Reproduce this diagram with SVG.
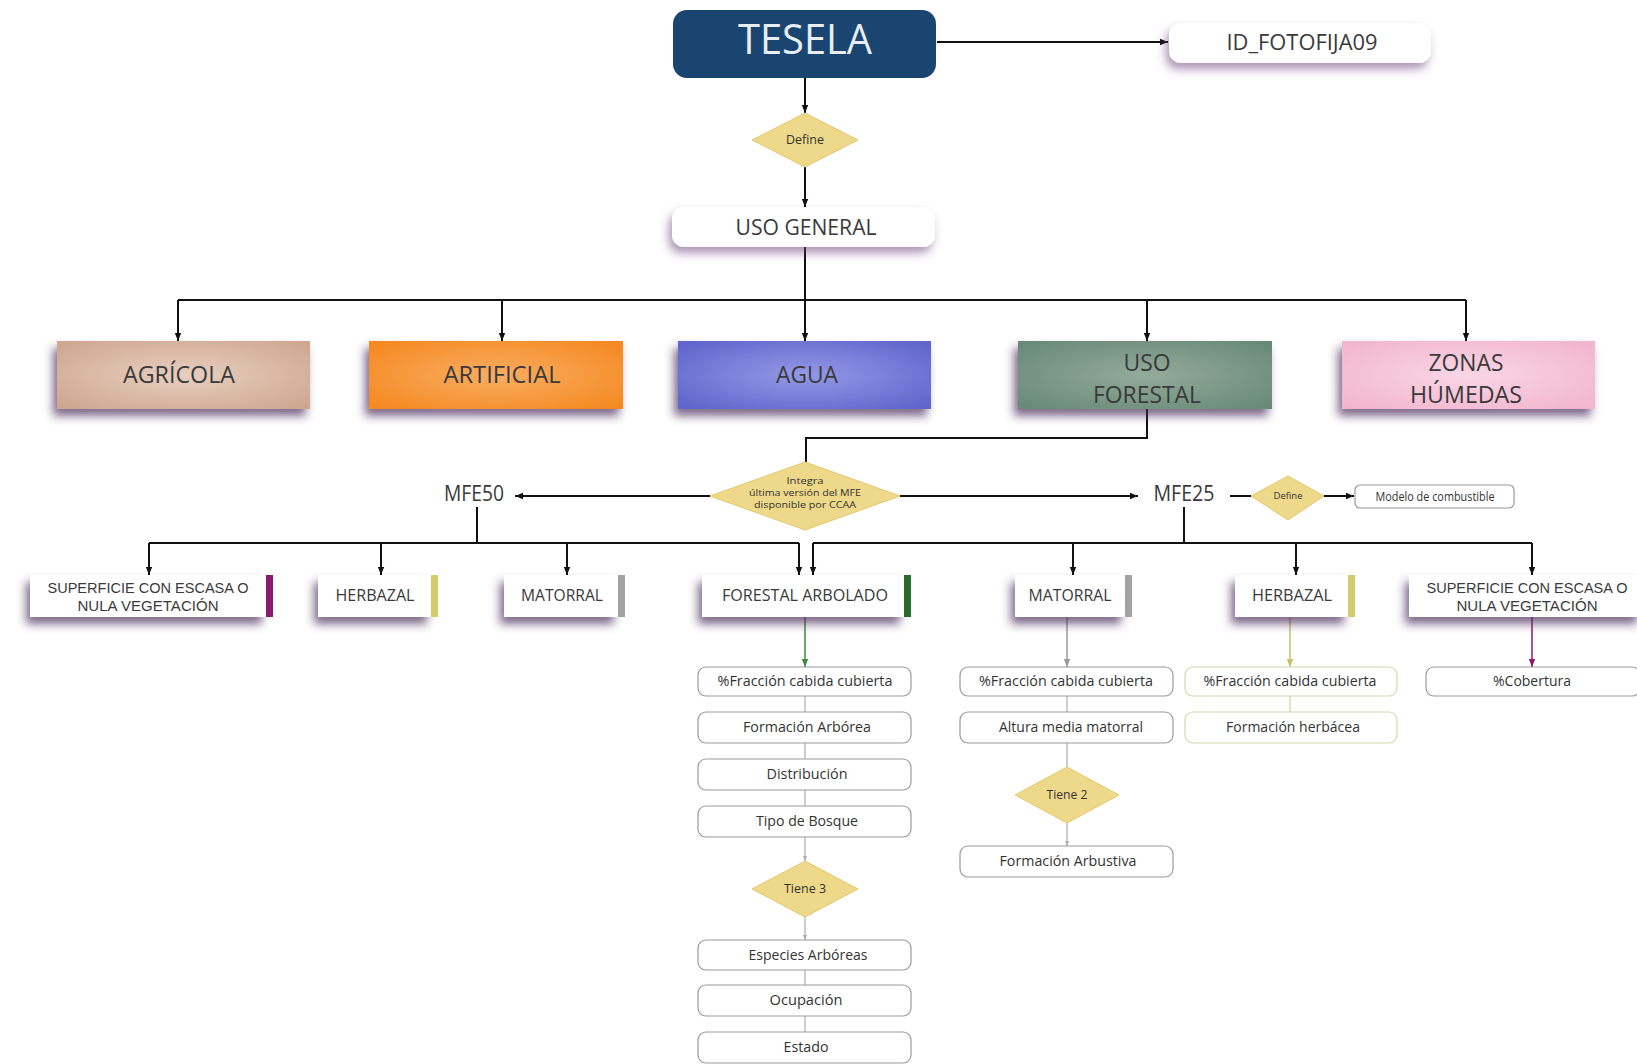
<svg xmlns="http://www.w3.org/2000/svg" width="1637" height="1064" viewBox="0 0 1637 1064">
<defs>
<style>
.t{font-family:"Open Sans","Noto Sans","Liberation Sans",sans-serif;fill:#3a3a3a;text-anchor:middle}
.big{font-size:24px}
.mid{font-size:21px}
.lab{font-size:16px}
.two{font-family:"Liberation Sans",Arial,sans-serif;font-size:15px}
.sub{font-size:14px;fill:#333}
.sm{font-size:12px;fill:#333}
.tiny{font-size:9.5px;fill:#333}
.ln{stroke:#111;stroke-width:2;fill:none}
.thin{stroke:#aaa;stroke-width:1.2;fill:none}
.sb{fill:#fff;stroke:#9a9a9a;stroke-width:1.2}
.dia{fill:#eed98a;stroke:#e2c96e;stroke-width:1}
.wb{fill:#fff}
</style>
<filter id="sh" x="-20%" y="-40%" width="140%" height="200%">
<feDropShadow dx="-4" dy="7" stdDeviation="5" flood-color="#4a2658" flood-opacity="0.7"/>
</filter>
<filter id="sh2" x="-20%" y="-40%" width="140%" height="200%">
<feDropShadow dx="-3" dy="6" stdDeviation="5" flood-color="#6a3a78" flood-opacity="0.55"/>
</filter>
<marker id="ab" viewBox="0 0 10 10" refX="10" refY="5" markerWidth="8" markerHeight="8" markerUnits="userSpaceOnUse" orient="auto"><path d="M0,1 L10,5 L0,9 z" fill="#111"/></marker>
<marker id="ag" viewBox="0 0 10 10" refX="10" refY="5" markerWidth="8" markerHeight="8" markerUnits="userSpaceOnUse" orient="auto"><path d="M0,1 L10,5 L0,9 z" fill="#3d8a3d"/></marker>
<marker id="agr" viewBox="0 0 10 10" refX="10" refY="5" markerWidth="8" markerHeight="8" markerUnits="userSpaceOnUse" orient="auto"><path d="M0,1 L10,5 L0,9 z" fill="#999"/></marker>
<marker id="ay" viewBox="0 0 10 10" refX="10" refY="5" markerWidth="8" markerHeight="8" markerUnits="userSpaceOnUse" orient="auto"><path d="M0,1 L10,5 L0,9 z" fill="#c9c06a"/></marker>
<marker id="ap" viewBox="0 0 10 10" refX="10" refY="5" markerWidth="8" markerHeight="8" markerUnits="userSpaceOnUse" orient="auto"><path d="M0,1 L10,5 L0,9 z" fill="#8a1a6e"/></marker>
<marker id="as" viewBox="0 0 10 10" refX="10" refY="5" markerWidth="5" markerHeight="5" markerUnits="userSpaceOnUse" orient="auto"><path d="M0,1 L10,5 L0,9 z" fill="#aaa"/></marker>
<radialGradient id="gA" cx="50%" cy="50%" r="65%"><stop offset="0" stop-color="#e8cfc0"/><stop offset="1" stop-color="#cfa891"/></radialGradient>
<radialGradient id="gR" cx="50%" cy="50%" r="65%"><stop offset="0" stop-color="#f9ad62"/><stop offset="1" stop-color="#f58a22"/></radialGradient>
<radialGradient id="gW" cx="50%" cy="50%" r="65%"><stop offset="0" stop-color="#9498e6"/><stop offset="1" stop-color="#6066cc"/></radialGradient>
<radialGradient id="gF" cx="50%" cy="50%" r="65%"><stop offset="0" stop-color="#93ab9b"/><stop offset="1" stop-color="#6a8a78"/></radialGradient>
<radialGradient id="gZ" cx="50%" cy="50%" r="65%"><stop offset="0" stop-color="#f9d6e5"/><stop offset="1" stop-color="#f2b6cf"/></radialGradient>
</defs>
<rect width="1637" height="1064" fill="#fff"/>

<g id="connectors">
<line class="ln" x1="805" y1="78" x2="805" y2="113" marker-end="url(#ab)"/>
<line class="ln" x1="805" y1="167" x2="805" y2="207" marker-end="url(#ab)"/>
<line class="ln" x1="937" y1="42" x2="1168" y2="42" marker-end="url(#ab)"/>
<line class="ln" x1="805" y1="247" x2="805" y2="300"/>
<line class="ln" x1="178" y1="300" x2="1466" y2="300"/>
<line class="ln" x1="178" y1="300" x2="178" y2="341" marker-end="url(#ab)"/>
<line class="ln" x1="502" y1="300" x2="502" y2="341" marker-end="url(#ab)"/>
<line class="ln" x1="805" y1="300" x2="805" y2="341" marker-end="url(#ab)"/>
<line class="ln" x1="1147" y1="300" x2="1147" y2="341" marker-end="url(#ab)"/>
<line class="ln" x1="1466" y1="300" x2="1466" y2="341" marker-end="url(#ab)"/>
<polyline class="ln" points="1147,409 1147,438 806,438 806,462"/>
<line class="ln" x1="710" y1="496" x2="515" y2="496" marker-end="url(#ab)"/>
<line class="ln" x1="900" y1="496" x2="1138" y2="496" marker-end="url(#ab)"/>
<line class="ln" x1="1230" y1="496" x2="1251" y2="496"/>
<line class="ln" x1="1324" y1="496" x2="1354" y2="496" marker-end="url(#ab)"/>
<line class="ln" x1="477" y1="507" x2="477" y2="543"/>
<line class="ln" x1="149" y1="543" x2="799" y2="543"/>
<line class="ln" x1="149" y1="543" x2="149" y2="575" marker-end="url(#ab)"/>
<line class="ln" x1="381" y1="543" x2="381" y2="575" marker-end="url(#ab)"/>
<line class="ln" x1="567" y1="543" x2="567" y2="575" marker-end="url(#ab)"/>
<line class="ln" x1="799" y1="543" x2="799" y2="575" marker-end="url(#ab)"/>
<line class="ln" x1="1184" y1="507" x2="1184" y2="543"/>
<line class="ln" x1="813" y1="543" x2="1532" y2="543"/>
<line class="ln" x1="813" y1="543" x2="813" y2="575" marker-end="url(#ab)"/>
<line class="ln" x1="1073" y1="543" x2="1073" y2="575" marker-end="url(#ab)"/>
<line class="ln" x1="1296" y1="543" x2="1296" y2="575" marker-end="url(#ab)"/>
<line class="ln" x1="1532" y1="543" x2="1532" y2="575" marker-end="url(#ab)"/>
<line x1="805" y1="617" x2="805" y2="667" stroke="#3d8a3d" stroke-width="1.5" marker-end="url(#ag)"/>
<line class="thin" x1="805" y1="696" x2="805" y2="712"/>
<line class="thin" x1="805" y1="743" x2="805" y2="759"/>
<line class="thin" x1="805" y1="790" x2="805" y2="806"/>
<line class="thin" x1="805" y1="837" x2="805" y2="861" marker-end="url(#as)"/>
<line class="thin" x1="805" y1="917" x2="805" y2="940" marker-end="url(#as)"/>
<line class="thin" x1="805" y1="970" x2="805" y2="985"/>
<line class="thin" x1="805" y1="1016" x2="805" y2="1032"/>
<line x1="1067" y1="617" x2="1067" y2="667" stroke="#999" stroke-width="1.5" marker-end="url(#agr)"/>
<line class="thin" x1="1067" y1="696" x2="1067" y2="712"/>
<line class="thin" x1="1067" y1="743" x2="1067" y2="767"/>
<line class="thin" x1="1067" y1="823" x2="1067" y2="846" marker-end="url(#as)"/>
<line x1="1290" y1="617" x2="1290" y2="667" stroke="#c9c06a" stroke-width="1.5" marker-end="url(#ay)"/>
<line x1="1290" y1="696" x2="1290" y2="712" stroke="#d8d29a" stroke-width="1.2"/>
<line x1="1532" y1="617" x2="1532" y2="667" stroke="#8a1a6e" stroke-width="1.5" marker-end="url(#ap)"/>
</g>

<g id="tesela"><rect x="673" y="10" width="263" height="68" rx="14" fill="#1a4570"/><text class="t" x="805" y="54" style="font-size:42px;fill:#e8eef4" textLength="134" lengthAdjust="spacingAndGlyphs">TESELA</text></g>
<g id="id_foto"><rect x="1169" y="23" width="262" height="40" rx="12" class="wb" filter="url(#sh2)"/><text class="t mid" x="1302" y="50" textLength="151" lengthAdjust="spacingAndGlyphs">ID_FOTOFIJA09</text></g>
<g id="define1"><polygon class="dia" points="805,113 858,140 805,167 752,140"/><text class="t sm" x="805" y="144" textLength="38" lengthAdjust="spacingAndGlyphs">Define</text></g>
<g id="uso_general"><rect x="672" y="207" width="263" height="40" rx="12" class="wb" filter="url(#sh2)"/><text class="t mid" x="806" y="235" textLength="141" lengthAdjust="spacingAndGlyphs">USO GENERAL</text></g>

<g id="agricola"><rect x="57" y="341" width="253" height="68" fill="url(#gA)" filter="url(#sh)"/><text class="t big" x="179" y="383" textLength="112" lengthAdjust="spacingAndGlyphs">AGRÍCOLA</text></g>
<g id="artificial"><rect x="369" y="341" width="254" height="68" fill="url(#gR)" filter="url(#sh)"/><text class="t big" x="502" y="383" textLength="117" lengthAdjust="spacingAndGlyphs">ARTIFICIAL</text></g>
<g id="agua"><rect x="678" y="341" width="253" height="68" fill="url(#gW)" filter="url(#sh)"/><text class="t big" x="807" y="383" textLength="62" lengthAdjust="spacingAndGlyphs">AGUA</text></g>
<g id="uso_forestal"><rect x="1018" y="341" width="254" height="68" fill="url(#gF)" filter="url(#sh)"/><text class="t big" x="1147" y="371" textLength="47" lengthAdjust="spacingAndGlyphs">USO</text><text class="t big" x="1147" y="403" textLength="108" lengthAdjust="spacingAndGlyphs">FORESTAL</text></g>
<g id="zonas_humedas"><rect x="1342" y="341" width="253" height="68" fill="url(#gZ)" filter="url(#sh)"/><text class="t big" x="1466" y="371" textLength="75" lengthAdjust="spacingAndGlyphs">ZONAS</text><text class="t big" x="1466" y="403" textLength="112" lengthAdjust="spacingAndGlyphs">HÚMEDAS</text></g>

<g id="integra"><polygon class="dia" points="805,462 900,496 805,530 710,496"/><text class="t tiny" x="805" y="484" textLength="37" lengthAdjust="spacingAndGlyphs">Integra</text><text class="t tiny" x="805" y="496" textLength="112" lengthAdjust="spacingAndGlyphs">última versión del MFE</text><text class="t tiny" x="805" y="508" textLength="102" lengthAdjust="spacingAndGlyphs">disponible por CCAA</text></g>
<g id="mfe50"><text class="t" x="474" y="501" style="font-size:21px" textLength="60" lengthAdjust="spacingAndGlyphs">MFE50</text></g>
<g id="mfe25"><text class="t" x="1184" y="501" style="font-size:21px" textLength="61" lengthAdjust="spacingAndGlyphs">MFE25</text></g>
<g id="define2"><polygon class="dia" points="1288,476 1324,496 1288,520 1251,496"/><text class="t tiny" x="1288" y="499" textLength="29" lengthAdjust="spacingAndGlyphs">Define</text></g>
<g id="modelo"><rect class="sb" x="1355" y="485" width="159" height="23" rx="5"/><text class="t sm" x="1435" y="501" textLength="119" lengthAdjust="spacingAndGlyphs">Modelo de combustible</text></g>

<g id="sup1"><rect x="30" y="575" width="236" height="42" class="wb" filter="url(#sh)"/><rect x="266" y="575" width="7" height="42" fill="#8a1a6e"/><text class="t two" x="148" y="593" textLength="201" lengthAdjust="spacingAndGlyphs">SUPERFICIE CON ESCASA O</text><text class="t two" x="148" y="611" textLength="141" lengthAdjust="spacingAndGlyphs">NULA VEGETACIÓN</text></g>
<g id="herb1"><rect x="318" y="575" width="113" height="42" class="wb" filter="url(#sh)"/><rect x="431" y="575" width="7" height="42" fill="#d4cc6a"/><text class="t lab" x="375" y="601" textLength="79" lengthAdjust="spacingAndGlyphs">HERBAZAL</text></g>
<g id="mat1"><rect x="504" y="575" width="114" height="42" class="wb" filter="url(#sh)"/><rect x="618" y="575" width="7" height="42" fill="#a3a3a3"/><text class="t lab" x="562" y="601" textLength="82" lengthAdjust="spacingAndGlyphs">MATORRAL</text></g>
<g id="forestal_arbolado"><rect x="702" y="575" width="202" height="42" class="wb" filter="url(#sh)"/><rect x="904" y="575" width="7" height="42" fill="#2a6a2a"/><text class="t lab" x="805" y="601" textLength="166" lengthAdjust="spacingAndGlyphs">FORESTAL ARBOLADO</text></g>
<g id="mat2"><rect x="1015" y="575" width="110" height="42" class="wb" filter="url(#sh)"/><rect x="1125" y="575" width="7" height="42" fill="#a3a3a3"/><text class="t lab" x="1070" y="601" textLength="83" lengthAdjust="spacingAndGlyphs">MATORRAL</text></g>
<g id="herb2"><rect x="1235" y="575" width="113" height="42" class="wb" filter="url(#sh)"/><rect x="1348" y="575" width="7" height="42" fill="#d4cc6a"/><text class="t lab" x="1292" y="601" textLength="80" lengthAdjust="spacingAndGlyphs">HERBAZAL</text></g>
<g id="sup2"><rect x="1409" y="575" width="232" height="42" class="wb" filter="url(#sh)"/><text class="t two" x="1527" y="593" textLength="201" lengthAdjust="spacingAndGlyphs">SUPERFICIE CON ESCASA O</text><text class="t two" x="1527" y="611" textLength="141" lengthAdjust="spacingAndGlyphs">NULA VEGETACIÓN</text></g>

<g id="fa_fcc"><rect class="sb" x="698" y="667" width="213" height="29" rx="8"/><text class="t sub" x="805" y="686" textLength="175" lengthAdjust="spacingAndGlyphs">%Fracción cabida cubierta</text></g>
<g id="fa_form"><rect class="sb" x="698" y="712" width="213" height="31" rx="8"/><text class="t sub" x="807" y="732" textLength="128" lengthAdjust="spacingAndGlyphs">Formación Arbórea</text></g>
<g id="fa_dist"><rect class="sb" x="698" y="759" width="213" height="31" rx="8"/><text class="t sub" x="807" y="779" textLength="81" lengthAdjust="spacingAndGlyphs">Distribución</text></g>
<g id="fa_tipo"><rect class="sb" x="698" y="806" width="213" height="31" rx="8"/><text class="t sub" x="807" y="826" textLength="102" lengthAdjust="spacingAndGlyphs">Tipo de Bosque</text></g>
<g id="tiene3"><polygon class="dia" points="805,861 858,889 805,917 752,889"/><text class="t sm" x="805" y="893" textLength="42" lengthAdjust="spacingAndGlyphs">Tiene 3</text></g>
<g id="fa_esp"><rect class="sb" x="698" y="940" width="213" height="30" rx="8"/><text class="t sub" x="808" y="960" textLength="119" lengthAdjust="spacingAndGlyphs">Especies Arbóreas</text></g>
<g id="fa_ocup"><rect class="sb" x="698" y="985" width="213" height="31" rx="8"/><text class="t sub" x="806" y="1005" textLength="73" lengthAdjust="spacingAndGlyphs">Ocupación</text></g>
<g id="fa_est"><rect class="sb" x="698" y="1032" width="213" height="31" rx="8"/><text class="t sub" x="806" y="1052" textLength="45" lengthAdjust="spacingAndGlyphs">Estado</text></g>

<g id="m_fcc"><rect class="sb" x="960" y="667" width="213" height="29" rx="8"/><text class="t sub" x="1066" y="686" textLength="174" lengthAdjust="spacingAndGlyphs">%Fracción cabida cubierta</text></g>
<g id="m_alt"><rect class="sb" x="960" y="712" width="213" height="31" rx="8"/><text class="t sub" x="1071" y="732" textLength="144" lengthAdjust="spacingAndGlyphs">Altura media matorral</text></g>
<g id="tiene2"><polygon class="dia" points="1067,767 1119,795 1067,823 1015,795"/><text class="t sm" x="1067" y="799" textLength="41" lengthAdjust="spacingAndGlyphs">Tiene 2</text></g>
<g id="m_arb"><rect class="sb" x="960" y="846" width="213" height="31" rx="8"/><text class="t sub" x="1068" y="866" textLength="137" lengthAdjust="spacingAndGlyphs">Formación Arbustiva</text></g>

<g id="h_fcc"><rect x="1185" y="667" width="212" height="29" rx="8" fill="#fff" stroke="#d8d6b0" stroke-width="1.2"/><text class="t sub" x="1290" y="686" textLength="173" lengthAdjust="spacingAndGlyphs">%Fracción cabida cubierta</text></g>
<g id="h_form"><rect x="1185" y="712" width="212" height="31" rx="8" fill="#fff" stroke="#d8d6b0" stroke-width="1.2"/><text class="t sub" x="1293" y="732" textLength="134" lengthAdjust="spacingAndGlyphs">Formación herbácea</text></g>

<g id="s_cob"><rect class="sb" x="1426" y="667" width="214" height="29" rx="8"/><text class="t sub" x="1532" y="686" textLength="78" lengthAdjust="spacingAndGlyphs">%Cobertura</text></g>
</svg>
